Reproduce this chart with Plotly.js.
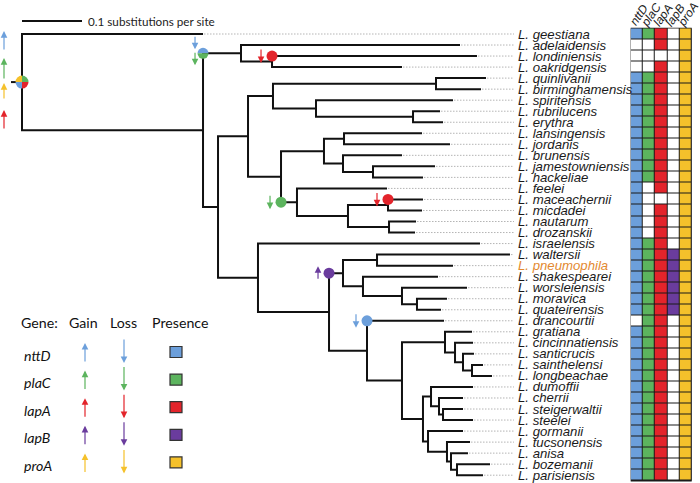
<!DOCTYPE html>
<html><head><meta charset="utf-8">
<script src="https://cdn.plot.ly/plotly-3.0.1.min.js"></script>
<style>html,body{margin:0;padding:0;background:#fff}#chart{width:700px;height:483px}</style>
</head><body><div id="chart"></div>
<script>
// ---------------- DATA ----------------
const species = ['L. geestiana','L. adelaidensis','L. londiniensis','L. oakridgensis','L. quinlivanii','L. birminghamensis','L. spiritensis','L. rubrilucens','L. erythra','L. lansingensis','L. jordanis','L. brunensis','L. jamestowniensis','L. hackeliae','L. feelei','L. maceachernii','L. micdadei','L. nautarum','L. drozanskii','L. israelensis','L. waltersii','L. pneumophila','L. shakespearei','L. worsleiensis','L. moravica','L. quateirensis','L. drancourtii','L. gratiana','L. cincinnatiensis','L. santicrucis','L. sainthelensi','L. longbeachae','L. dumoffii','L. cherrii','L. steigerwaltii','L. steelei','L. gormanii','L. tucsonensis','L. anisa','L. bozemanii','L. parisiensis'];
// tip depth (substitutions per site from the root)
const leafDepth = [0.3017,0.73,0.7583,0.6333,0.7733,0.765,0.7183,0.6967,0.7017,0.6667,
  0.7133,0.6333,0.6883,0.6683,0.6083,0.6683,0.6667,0.6567,0.655,0.7633,
  0.8133,0.7183,0.6933,0.7417,0.7083,0.6983,0.7033,0.75,0.7517,0.7533,
  0.7683,0.7833,0.7517,0.735,0.735,0.7517,0.735,0.7467,0.7433,0.78,0.7683];
// internal nodes
const cladeNames = ['root','N1','Nadel','Nlond','N2','N3','N4','Nquin','Nspir','Nrubr','N5','N6','Nlans','Nbrun','Njame','Nfeel','N7','Nmace','Nnaut','N8','N9','NL','Nwalt','NM','NN','NO','N10','N11','NA','NB','NC','ND','N12','NI','NJ','NK','NH','NE','NF','NG'];
const cladeDepth = [0,0.3017,0.365,0.4167,0.3267,0.3767,0.4183,0.69,0.49,0.6517,0.4317,0.5033,0.5367,0.535,0.585,0.4583,0.5433,0.61,0.6117,0.3933,0.5117,0.535,0.5917,0.5683,0.6333,0.6583,0.575,0.6333,0.705,0.7217,0.735,0.75,0.6683,0.6817,0.695,0.7017,0.6767,0.7083,0.715,0.725];
const cladeKids = [[0,'N1'],['Nadel','N2'],[1,'Nlond'],[2,3],['N3','N8'],['N4','N5'],['Nquin','Nspir'],[4,5],[6,'Nrubr'],[7,8],['N6','Nfeel'],['Nlans','Nbrun'],[9,10],[11,'Njame'],[12,13],[14,'N7'],['Nmace','Nnaut'],[15,16],[17,18],[19,'N9'],['NL','N10'],['Nwalt','NM'],[20,21],[22,'NN'],[23,'NO'],[24,25],[26,'N11'],['NA','N12'],[27,'NB'],[28,'NC'],[29,'ND'],[30,31],['NI','NH'],[32,'NJ'],[33,'NK'],[34,35],[36,'NE'],[37,'NF'],[38,'NG'],[39,40]];

const genes = ['nttD','plaC','lapA','lapB','proA'];
const geneColors = ['#6c9fdb','#5cb45e','#e3242b','#6a3c9d','#f5c12b'];
const nttD = [1,0,0,0,1,1,1,1,1,1, 1,1,1,1,1,1,1,1,1,1, 1,1,1,1,1,1,0,1,1,1, 1,1,1,1,1,1,1,1,1,1, 1];
const plaC = [1,0,0,0,1,1,1,1,1,1, 1,1,1,1,0,0,0,0,0,1, 1,1,1,1,1,1,1,1,1,1, 1,1,1,1,1,1,1,1,1,1, 1];
const lapA = [1,1,0,1,1,1,1,1,1,1, 1,1,1,1,1,0,1,1,1,1, 1,1,1,1,1,1,1,1,1,1, 1,1,1,1,1,1,1,1,1,1, 1];
const lapB = [0,0,0,0,0,0,0,0,0,0, 0,0,0,0,0,0,0,0,0,0, 1,1,1,1,1,1,0,0,0,0, 0,0,0,0,0,0,0,0,0,0, 0];
const proA = [1,1,1,1,1,1,1,1,1,1, 1,1,1,1,1,1,1,1,1,1, 1,1,1,1,1,1,1,1,1,1, 1,1,1,1,1,1,1,1,1,1, 1];

// gene gains at the root (arrow order top to bottom) and root pie (clockwise from 12 o'clock)
const rootGainArrows = ['nttD','plaC','proA','lapA'];
const rootPie = ['plaC','lapA','nttD','proA'];
// events on branches (branch leading to target)
const eventTarget = ['Nadel', 2, 'Nfeel', 15, 'NL', 26];
const eventGenes = [['nttD','plaC'],['lapA'],['plaC'],['lapA'],['lapB'],['nttD']];
const eventType = ['loss','loss','loss','loss','gain','loss'];
const highlight = 'L. pneumophila';

// ---------------- GEOMETRY ----------------
const W=700,H=483;
const X0PX=22, PXU=600, Y0PX=34, PXROW=11.03;
const xr=[-X0PX/PXU,(W-X0PX)/PXU];
const yr=[(H-Y0PX)/PXROW,-Y0PX/PXROW];
const pxX=d=>X0PX+PXU*d, pxY=i=>Y0PX+PXROW*i;
const gc = g => geneColors[genes.indexOf(g)];
const cIdx={}; cladeNames.forEach((n,i)=>cIdx[n]=i);
const depthOf = k => typeof k==='number' ? leafDepth[k] : cladeDepth[cIdx[k]];
const yMemo={};
function yPos(k){ if(typeof k==='number') return k; if(yMemo[k]!==undefined) return yMemo[k];
  const kids=cladeKids[cIdx[k]]; const v=(yPos(kids[0])+yPos(kids[kids.length-1]))/2; yMemo[k]=v; return v; }
const parentDepth={};
cladeKids.forEach((kids,c)=>kids.forEach(k=>parentDepth[String(k)]=cladeDepth[c]));

// tree lines
const tx=[],ty=[];
cladeKids.forEach((kids,c)=>{
  const d=cladeDepth[c];
  const a=kids[0], b=kids[kids.length-1];
  tx.push(depthOf(a),d,d,depthOf(b),null); ty.push(yPos(a),yPos(a),yPos(b),yPos(b),null);
});
const rootY=yPos('root');
tx.push(-11/PXU,0,null); ty.push(rootY,rootY,null);
// dotted leaders
const LEADER_END=(514-X0PX)/PXU, LABEL_X=(517-X0PX)/PXU;
const dx=[],dy=[];
leafDepth.forEach((d,i)=>{ if(d<LEADER_END){dx.push(d+1/PXU,LEADER_END,null);dy.push(i,i,null);} });

const traces=[];
traces.push({type:'scatter',mode:'lines',x:dx,y:dy,line:{color:'#b4b4b4',width:1,dash:'1.5px,1.5px'},hoverinfo:'skip',showlegend:false});
traces.push({type:'scatter',mode:'lines',x:tx,y:ty,line:{color:'#111',width:2},hoverinfo:'skip',showlegend:false});

const ex=[],ey=[],ec=[];
const annotations=[], shapes=[];
// arrow: head and tail given as vertical pixel offsets (positive = down) from (x,y)
function arrow(xref,x,yref,y,xs,headDy,tailDy,color,size){
  return {xref,yref,x,y,xshift:xs,yshift:-headDy,ax:0,ay:tailDy-headDy,axref:'pixel',ayref:'pixel',text:'',
    showarrow:true,arrowhead:2,arrowsize:size||1.1,arrowwidth:1.2,arrowcolor:color,standoff:0,startstandoff:0};
}
function pieTrace(cx,cy,r,labels,rot){
  return {type:'pie',values:labels.map(()=>1),labels:labels,sort:false,direction:'clockwise',rotation:rot,
    marker:{colors:labels.map(gc),line:{width:0}},textinfo:'none',hoverinfo:'skip',showlegend:false,
    domain:{x:[(cx-r)/W,(cx+r)/W],y:[1-(cy+r)/H,1-(cy-r)/H]}};
}
eventTarget.forEach((t,e)=>{
  const x=parentDepth[String(t)], y=yPos(t), gs=eventGenes[e], gain=eventType[e]==='gain';
  if(gs.length===1){
    ex.push(x);ey.push(y);ec.push(gc(gs[0]));
    annotations.push(gain?arrow('x',x,'y',y,-11,-7,7,gc(gs[0])):arrow('x',x,'y',y,-11,7,-8,gc(gs[0])));
  } else {
    traces.push(pieTrace(pxX(x),pxY(y),5.5,gs,-90));
    annotations.push(arrow('x',x,'y',y,-8,-4,-18,gc(gs[0])));
    annotations.push(arrow('x',x,'y',y,-8,12,-2,gc(gs[1])));
  }
});
traces.push({type:'scatter',mode:'markers',x:ex,y:ey,marker:{size:11,color:ec,line:{width:0}},hoverinfo:'skip',showlegend:false});
// root pie and root gain arrows
traces.push(pieTrace(pxX(0),pxY(rootY),6.5,rootPie,0));
const rootArrowOffsets=[[-51,-31],[-24,-2],[1,18],[28,48]];
rootGainArrows.forEach((g,j)=>annotations.push(arrow('x',0,'y',rootY,-18,rootArrowOffsets[j][0],rootArrowOffsets[j][1],gc(g))));

// presence matrix
const pres=[nttD,plaC,lapA,lapB,proA];
const z=species.map((s,i)=>genes.map((g,j)=>pres[j][i]?j+1:0));
traces.push({type:'heatmap',xaxis:'x2',yaxis:'y',x:[0,1,2,3,4],y:species.map((s,i)=>i),z:z,zmin:0,zmax:5,
  colorscale:[[0,'#ffffff'],[0.1,'#ffffff'],[0.1,geneColors[0]],[0.3,geneColors[0]],[0.3,geneColors[1]],[0.5,geneColors[1]],
    [0.5,geneColors[2]],[0.7,geneColors[2]],[0.7,geneColors[3]],[0.9,geneColors[3]],[0.9,geneColors[4]],[1,geneColors[4]]],
  showscale:false,xgap:1,ygap:1,hoverinfo:'skip'});
shapes.push({type:'rect',xref:'x2',yref:'y',x0:-0.5,x1:4.5,y0:-0.5,y1:species.length-0.5,fillcolor:'#1a1a1a',line:{color:'#1a1a1a',width:1.5},layer:'below'});
genes.forEach((g,j)=>annotations.push({xref:'x2',x:j,xshift:2,yref:'paper',y:1-15/H,text:'<i>'+g+'</i>',showarrow:false,
  textangle:-55,font:{family:'Liberation Sans, Arial',size:12,color:'#222'},xanchor:'center',yanchor:'middle'}));

// species labels
species.forEach((s,i)=>annotations.push({xref:'x',yref:'y',x:LABEL_X,y:i,text:'<i>'+s+'</i>',showarrow:false,xanchor:'left',yanchor:'middle',
  font:{family:'Liberation Sans, Arial',size:13.2,color:s===highlight?'#e3892f':'#1a1a1a'},borderpad:0}));

// scale bar
shapes.push({type:'line',xref:'x',yref:'paper',x0:0,x1:0.1,y0:1-21/H,y1:1-21/H,line:{color:'#111',width:2}});
annotations.push({xref:'x',yref:'paper',x:0.1,xshift:5,y:1-21/H,text:'0.1 substitutions per site',showarrow:false,xanchor:'left',yanchor:'middle',
  font:{family:'Lato, Liberation Sans',size:11.7,color:'#222'},borderpad:0});

// legend
const LF={family:'Lato, Liberation Sans',size:14.2,color:'#111'};
annotations.push({xref:'paper',yref:'paper',x:20/W,y:1-322/H,text:'Gene:',showarrow:false,xanchor:'left',yanchor:'middle',font:LF,borderpad:0});
annotations.push({xref:'paper',yref:'paper',x:83/W,y:1-322/H,text:'Gain',showarrow:false,xanchor:'center',yanchor:'middle',font:LF,borderpad:0});
annotations.push({xref:'paper',yref:'paper',x:124/W,y:1-322/H,text:'Loss',showarrow:false,xanchor:'center',yanchor:'middle',font:LF,borderpad:0});
annotations.push({xref:'paper',yref:'paper',x:179.5/W,y:1-322/H,text:'Presence',showarrow:false,xanchor:'center',yanchor:'middle',font:LF,borderpad:0});
genes.forEach((g,r)=>{
  const c=352+27.6*r, col=geneColors[r];
  annotations.push({xref:'paper',yref:'paper',x:23/W,y:1-(c+3)/H,text:'<i>'+g+'</i>',showarrow:false,xanchor:'left',yanchor:'middle',font:LF,borderpad:0});
  annotations.push(arrow('paper',85/W,'paper',1-c/H,0,-9,11,col));
  annotations.push(arrow('paper',124/W,'paper',1-c/H,0,11,-14,col));
  shapes.push({type:'rect',xref:'paper',yref:'paper',x0:170/W,x1:182/W,y0:1-(c+5.5)/H,y1:1-(c-5.5)/H,fillcolor:col,line:{color:'#333',width:1.2}});
});

const layout={width:W,height:H,margin:{l:0,r:0,t:0,b:0},paper_bgcolor:'#fff',plot_bgcolor:'rgba(0,0,0,0)',showlegend:false,
  xaxis:{range:xr,visible:false,fixedrange:true,domain:[0,1]},
  xaxis2:{range:[-0.5,4.5],visible:false,fixedrange:true,domain:[630.7/W,691.7/W],anchor:'y'},
  yaxis:{range:yr,visible:false,fixedrange:true},
  annotations:annotations,shapes:shapes};
Plotly.newPlot('chart',traces,layout,{displayModeBar:false,staticPlot:true});
</script></body></html>
